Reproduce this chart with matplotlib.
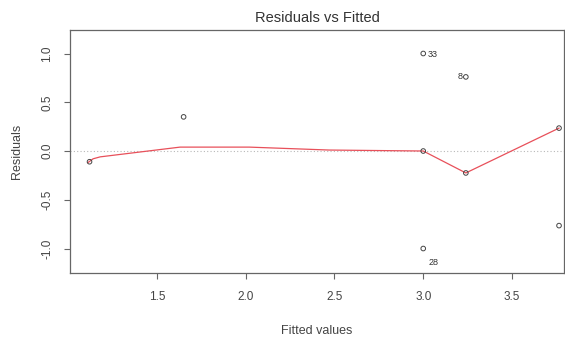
import matplotlib
matplotlib.use("Agg")
import matplotlib.pyplot as plt

plt.rcParams['font.family'] = ['Liberation Sans', 'DejaVu Sans']

# Fitted values and residuals of the model
fitted = [1.12, 1.65, 3.00, 3.00, 3.00, 3.24, 3.24, 3.765, 3.765]
residuals = [-0.11, 0.35, 1.00, 0.00, -1.00, 0.76, -0.225, 0.235, -0.765]

# Smoothed trend through the residuals
smooth_x = [1.11, 1.14, 1.18, 1.63, 2.02, 2.47, 3.00, 3.24, 3.765]
smooth_y = [-0.12, -0.08, -0.06, 0.04, 0.04, 0.01, 0.00, -0.225, 0.235]

# Labelled observations: (id, fitted, residual, label offset in points, alignment)
labels = [("33", 3.00, 1.00, (3, -1), "left"),
          ("8", 3.24, 0.76, (-2, 0), "right"),
          ("28", 3.00, -1.00, (4, -10), "left")]

xticks = [1.5, 2.0, 2.5, 3.0, 3.5]
yticks = [-1.0, -0.5, 0.0, 0.5, 1.0]

fig = plt.figure(figsize=(5.65, 3.43), dpi=100)
ax = fig.add_axes([70/565, 1-273/343, 494/565, 243/343])

ax.axhline(0, color="#b8b8b8", linestyle=(0, (1, 2)), linewidth=0.8, zorder=1)
ax.plot(smooth_x, smooth_y, color="#e8505a", linewidth=0.9, zorder=2)
ax.scatter(fitted, residuals, s=11, facecolors="none", edgecolors="#444444",
           linewidths=0.7, zorder=3)

for lab, fx, fy, off, ha in labels:
    ax.annotate(lab, (fx, fy), xytext=off, textcoords="offset points",
                ha=ha, va="center", fontsize=6.5, color="#333333")

ax.set_xlim(1.01, 3.793)
ax.set_ylim(-1.251, 1.241)
ax.set_xticks(xticks)
ax.set_xticklabels([f"{v:.1f}" for v in xticks])
ax.set_yticks(yticks)
ax.set_yticklabels([f"{v:.1f}" for v in yticks], rotation=90, va="center")

for s in ax.spines.values():
    s.set_color("#666666")
    s.set_linewidth(0.9)
ax.tick_params(axis="both", colors="#666666", labelcolor="#444444",
               labelsize=8.5, length=4, width=0.8)
ax.tick_params(axis="x", pad=9)
ax.tick_params(axis="y", pad=8)

ax.set_title("Residuals vs Fitted", fontsize=10.5, color="#333333", pad=6)
ax.set_xlabel("Fitted values", fontsize=9, color="#444444", labelpad=16)
ax.set_ylabel("Residuals", fontsize=9, color="#444444", labelpad=13)

fig.savefig("out.png", dpi=100)
